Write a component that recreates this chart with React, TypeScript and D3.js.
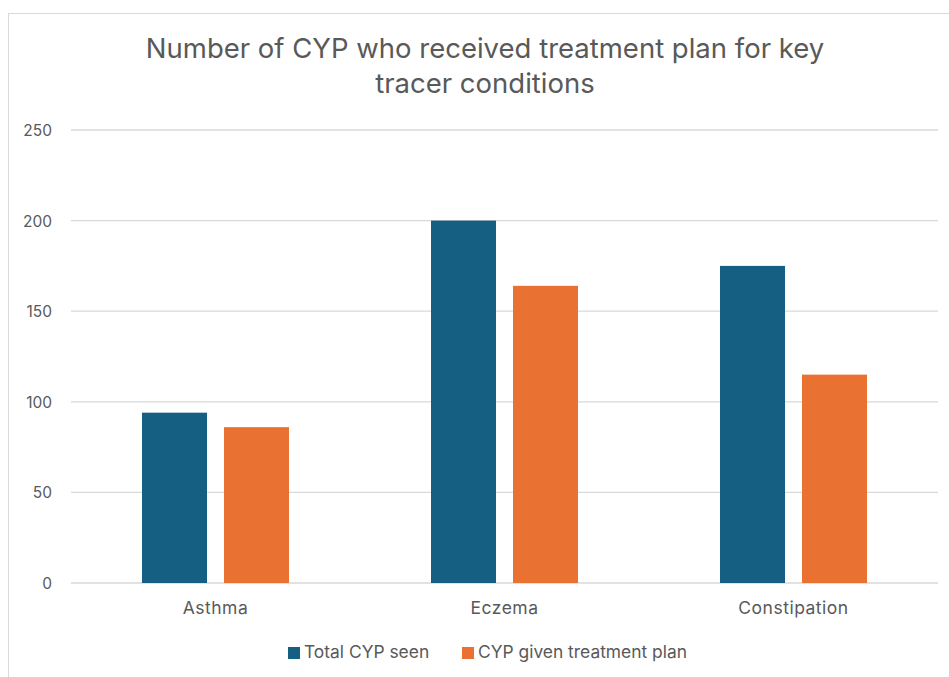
import React from "react";
import * as d3 from "d3";

const categories = ["Asthma", "Eczema", "Constipation"];
const seriesNames = ["Total CYP seen", "CYP given treatment plan"];
const totalSeen = [94, 200, 175];
const givenPlan = [86, 164, 115];
const yTicks = [0, 50, 100, 150, 200, 250];
const colors = ["#156082", "#E97132"];

const W = 949;
const H = 677;
const FONT = "Inter, 'Open Sans', sans-serif";
const TEXT = "#595959";

export default function App() {
  const m = { left: 71, right: 938, top: 130, bottom: 583 };
  const x0 = d3.scaleBand<string>().domain(categories).range([m.left, m.right]).paddingInner(0).paddingOuter(0);
  const groupW = 147;
  const inner = d3
    .scaleBand<string>()
    .domain(seriesNames)
    .range([0, groupW])
    .paddingInner(17 / 82);
  const y = d3.scaleLinear().domain([0, 250]).range([m.bottom, m.top]);
  const series = [totalSeen, givenPlan];

  return (
    <svg
      width={W}
      height={H}
      style={{ position: "absolute", left: 0, top: 0, background: "#fff" }}
      fontFamily={FONT}
    >
      <rect x={8.5} y={13.5} width={960} height={700} fill="#fff" stroke="#D9D9D9" strokeWidth={1} />
      <text x={485} y={58} textAnchor="middle" fontSize={27.5} fill={TEXT}>
        Number of CYP who received treatment plan for key
      </text>
      <text x={485} y={93} textAnchor="middle" fontSize={27.5} fill={TEXT}>
        tracer conditions
      </text>
      {yTicks.map((t) => (
        <g key={t}>
          <line x1={m.left} x2={m.right} y1={y(t)} y2={y(t)} stroke="#D9D9D9" strokeWidth={1.3} />
          <text x={52} y={y(t) + 6} textAnchor="end" fontSize={15.5} fill={TEXT}>
            {t}
          </text>
        </g>
      ))}
      {categories.map((c, i) => {
        const gx = (x0(c) as number) + (x0.bandwidth() - groupW) / 2;
        return (
          <g key={c}>
            {series.map((s, j) => (
              <rect
                key={j}
                x={gx + (inner(seriesNames[j]) as number)}
                y={y(s[i])}
                width={inner.bandwidth()}
                height={y(0) - y(s[i])}
                fill={colors[j]}
              />
            ))}
            <text
              x={(x0(c) as number) + x0.bandwidth() / 2}
              y={614}
              textAnchor="middle"
              fontSize={17.5}
              letterSpacing={0.5}
              fill={TEXT}
            >
              {c}
            </text>
          </g>
        );
      })}
      {seriesNames.map((n, j) => {
        const lx = j === 0 ? 288 : 462;
        return (
          <g key={n}>
            <rect x={lx} y={647} width={12} height={12} fill={colors[j]} />
            <text x={lx + 16} y={658} fontSize={17.4} fill={TEXT}>
              {n}
            </text>
          </g>
        );
      })}
    </svg>
  );
}
